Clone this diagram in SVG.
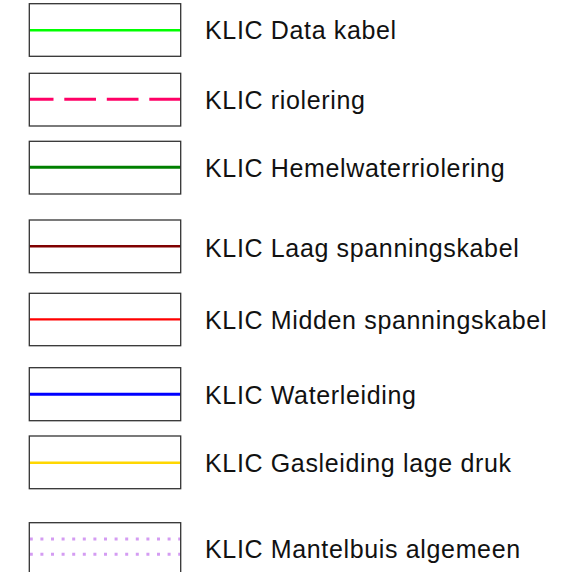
<svg xmlns="http://www.w3.org/2000/svg" width="584" height="572" viewBox="0 0 584 572">
<style>
.box{fill:none;stroke:#333;stroke-width:1.3}
.lbl{font-family:"Liberation Sans",Arial,sans-serif;font-size:25px;letter-spacing:0.65px;fill:#111}
.dot{stroke:#d49cf2;stroke-width:3;stroke-dasharray:3 7.6;stroke-dashoffset:-0.3}
</style>
<rect width="584" height="572" fill="#fff"/>
<g id="connectors">
<line x1="29.5" y1="30.3" x2="180.7" y2="30.3" stroke="#00ff00" stroke-width="2.5"/>
<line x1="29.5" y1="99.3" x2="180.7" y2="99.3" stroke="#ff0066" stroke-width="3" stroke-dasharray="31.7 10.8" stroke-dashoffset="7.7"/>
<line x1="29.5" y1="167.3" x2="180.7" y2="167.3" stroke="#008000" stroke-width="3"/>
<line x1="29.5" y1="246.3" x2="180.7" y2="246.3" stroke="#800000" stroke-width="2.5"/>
<line x1="29.5" y1="319.3" x2="180.7" y2="319.3" stroke="#ff0000" stroke-width="2.2"/>
<line x1="29.5" y1="394.3" x2="180.7" y2="394.3" stroke="#0000ff" stroke-width="3"/>
<line x1="29.5" y1="462.7" x2="180.7" y2="462.7" stroke="#ffd700" stroke-width="2.5"/>
<line class="dot" x1="29.5" y1="539" x2="180.7" y2="539"/>
<line class="dot" x1="29.5" y1="554.3" x2="180.7" y2="554.3"/>
</g>
<g id="n1"><rect class="box" x="29.3" y="3.7" width="151.4" height="52.6"/><text class="lbl" x="205" y="39">KLIC Data kabel</text></g>
<g id="n2"><rect class="box" x="29.3" y="73.3" width="151.4" height="52.7"/><text class="lbl" x="205" y="109">KLIC riolering</text></g>
<g id="n3"><rect class="box" x="29.3" y="141.3" width="151.4" height="52.7"/><text class="lbl" x="205" y="177">KLIC Hemelwaterriolering</text></g>
<g id="n4"><rect class="box" x="29.3" y="220" width="151.4" height="52.7"/><text class="lbl" x="205" y="256.5">KLIC Laag spanningskabel</text></g>
<g id="n5"><rect class="box" x="29.3" y="293.3" width="151.4" height="52.4"/><text class="lbl" x="205" y="329">KLIC Midden spanningskabel</text></g>
<g id="n6"><rect class="box" x="29.3" y="367.7" width="151.4" height="53"/><text class="lbl" x="205" y="403.5">KLIC Waterleiding</text></g>
<g id="n7"><rect class="box" x="29.3" y="436" width="151.4" height="52.7"/><text class="lbl" x="205" y="472">KLIC Gasleiding lage druk</text></g>
<g id="n8"><rect class="box" x="29.3" y="522.7" width="151.4" height="53"/><text class="lbl" x="205" y="557.7">KLIC Mantelbuis algemeen</text></g>
</svg>
